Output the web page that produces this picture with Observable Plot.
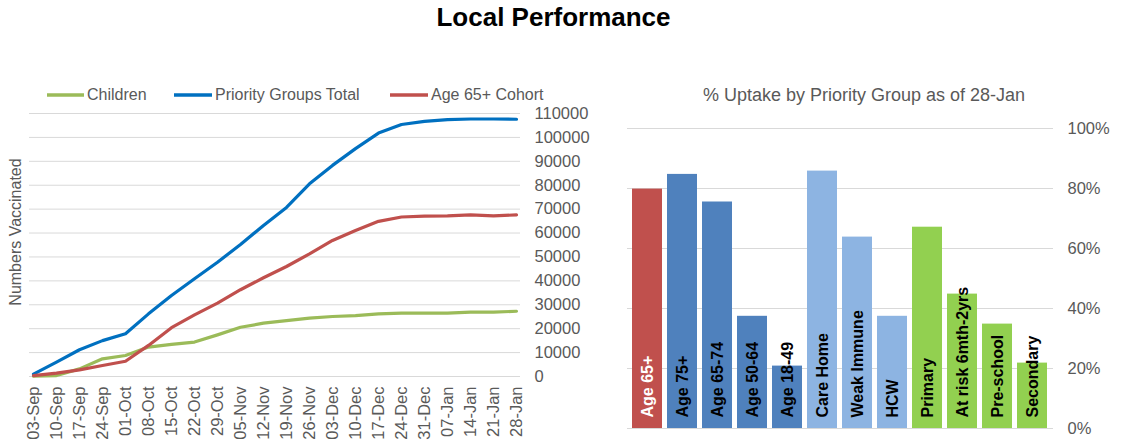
<!DOCTYPE html>
<html>
<head>
<meta charset="utf-8">
<script src="https://cdn.jsdelivr.net/npm/d3@7"></script>
<script src="https://cdn.jsdelivr.net/npm/@observablehq/plot@0.6"></script>
<style>
  html, body { margin: 0; padding: 0; background: #fff; }
  #page { position: relative; width: 1125px; height: 442px; overflow: hidden;
          font-family: "Liberation Sans", Arial, sans-serif; color: #595959; }
  .abs { position: absolute; }
  #title { left: 0; width: 1107px; top: 4px; text-align: center; font-size: 26px;
           font-weight: bold; color: #000; line-height: 26px; }
  #subtitle { left: 600px; width: 528px; top: 86px; text-align: center; font-size: 18px; line-height: 18px; }
  #ytitle { left: -84px; top: 224px; width: 200px; height: 16px; line-height: 16px; font-size: 16px;
            text-align: center; transform: rotate(-90deg); transform-origin: 100px 8px; white-space: nowrap; }
  .leg { position: absolute; top: 87px; font-size: 16px; line-height: 16px; white-space: nowrap; }
  .leg svg { position: absolute; left: 0; top: 6px; }
</style>
</head>
<body>
<div id="page">
  <div id="title" class="abs">Local Performance</div>
  <div id="legend"></div>
  <div id="ytitle" class="abs">Numbers Vaccinated</div>
  <div id="subtitle" class="abs">% Uptake by Priority Group as of 28-Jan</div>
  <div id="left" class="abs" style="left:0;top:100px"></div>
  <div id="right" class="abs" style="left:600px;top:70px"></div>
</div>
<script>
// Weekly cumulative vaccinations
const dates = ["03-Sep","10-Sep","17-Sep","24-Sep","01-Oct","08-Oct","15-Oct","22-Oct","29-Oct","05-Nov","12-Nov",
               "19-Nov","26-Nov","03-Dec","10-Dec","17-Dec","24-Dec","31-Dec","07-Jan","14-Jan","21-Jan","28-Jan"];
const children = [100, 400, 3200, 7400, 8800, 12300, 13400, 14400, 17400, 20600, 22300,
                  23400, 24400, 25100, 25500, 26200, 26500, 26500, 26500, 26900, 26900, 27300];
const priorityTotal = [1000, 6000, 11200, 15000, 17900, 26200, 33900, 40900, 47800, 55200, 63200,
                       70700, 80600, 88300, 95300, 101800, 105400, 106700, 107400, 107700, 107700, 107600];
const age65Cohort = [400, 1400, 2800, 4600, 6400, 13000, 20400, 25800, 30700, 36300, 41300,
                     46000, 51300, 56900, 61100, 64900, 66700, 67100, 67200, 67600, 67200, 67600];
const seriesNames = ["Children", "Priority Groups Total", "Age 65+ Cohort"];
const yTicks = d3.range(0, 110001, 10000);

// Uptake by priority group
const groups = ["Age 65+","Age 75+","Age 65-74","Age 50-64","Age 18-49","Care Home","Weak Immune","HCW",
                "Primary","At risk 6mth-2yrs","Pre-school","Secondary"];
const uptake = [0.798, 0.847, 0.755, 0.374, 0.208, 0.858, 0.638, 0.374, 0.671, 0.448, 0.348, 0.218];
const groupKind = ["cohort","age","age","age","age","clinical","clinical","clinical","child","child","child","child"];
const pctTicks = [0, 0.2, 0.4, 0.6, 0.8, 1];

const lineColors = ["#9BBB59", "#0070C0", "#C0504D"];
const kindDomain = ["cohort","age","clinical","child"];
const kindColors = ["#C0504D", "#4F81BD", "#8DB4E2", "#92D050"];

const font = '"Liberation Sans", Arial, sans-serif';

// Legend for the line chart
const legendItems = [
  {name: seriesNames[0], line: 47, text: 87},
  {name: seriesNames[1], line: 174, text: 215},
  {name: seriesNames[2], line: 390, text: 431}
];
const legend = document.getElementById("legend");
legendItems.forEach((it, i) => {
  const d = document.createElement("div");
  d.className = "leg";
  d.style.left = it.line + "px";
  d.innerHTML = `<svg width="${it.text - it.line}" height="4"><line x1="0" x2="${it.text - it.line - 3}" y1="2" y2="2" stroke="${lineColors[i]}" stroke-width="3.5"/></svg><span style="position:absolute;left:${it.text - it.line}px;top:0">${it.name}</span>`;
  legend.appendChild(d);
});

// Long-format table for the lines
const lineData = [];
[children, priorityTotal, age65Cohort].forEach((vals, s) => {
  vals.forEach((v, i) => lineData.push({date: dates[i], value: v, series: seriesNames[s]}));
});

const left = Plot.plot({
  width: 590, height: 342,
  marginLeft: 29, marginRight: 70, marginTop: 13, marginBottom: 66,
  style: {fontFamily: font, fontSize: "16px", color: "#595959", background: "transparent", overflow: "visible"},
  x: {type: "point", domain: dates, padding: 0},
  y: {domain: [0, 110000]},
  color: {domain: seriesNames, range: lineColors},
  marks: [
    Plot.gridY(yTicks, {stroke: "#D9D9D9", strokeOpacity: 1, strokeWidth: 1}),
    Plot.axisY(yTicks, {anchor: "right", tickSize: 0, tickPadding: 14, tickFormat: d => String(d), label: null, fontSize: 16.5}),
    Plot.axisX({tickRotate: -90, tickSize: 0, tickPadding: 10, label: null, fontSize: 16.5}),
    Plot.line(lineData, {x: "date", y: "value", z: "series", stroke: "series", strokeWidth: 3.2, strokeLinejoin: "round"})
  ]
});
document.getElementById("left").appendChild(left);

const barData = groups.map((g, i) => ({group: g, value: uptake[i], kind: groupKind[i]}));

const right = Plot.plot({
  width: 525, height: 372,
  marginLeft: 27, marginRight: 72, marginTop: 58, marginBottom: 14,
  style: {fontFamily: font, fontSize: "16px", color: "#595959", background: "transparent", overflow: "visible"},
  x: {domain: groups, paddingInner: 0.13, paddingOuter: 0.07, axis: null},
  y: {domain: [0, 1]},
  color: {domain: kindDomain, range: kindColors},
  marks: [
    Plot.gridY(pctTicks, {stroke: "#D9D9D9", strokeOpacity: 1, strokeWidth: 1}),
    Plot.axisY(pctTicks, {anchor: "right", tickSize: 0, tickPadding: 14, tickFormat: d3.format(".0%"), label: null, fontSize: 16.5}),
    Plot.barY(barData, {x: "group", y: "value", fill: "kind"}),
    Plot.text(barData, {filter: d => d.kind === "cohort", x: "group", y: 0, text: "group", rotate: -90,
      textAnchor: "start", dy: -11, fontWeight: "bold", fontSize: 16, fill: "white"}),
    Plot.text(barData, {filter: d => d.kind !== "cohort", x: "group", y: 0, text: "group", rotate: -90,
      textAnchor: "start", dy: -11, fontWeight: "bold", fontSize: 16, fill: "black"})
  ]
});
document.getElementById("right").appendChild(right);
</script>
</body>
</html>
